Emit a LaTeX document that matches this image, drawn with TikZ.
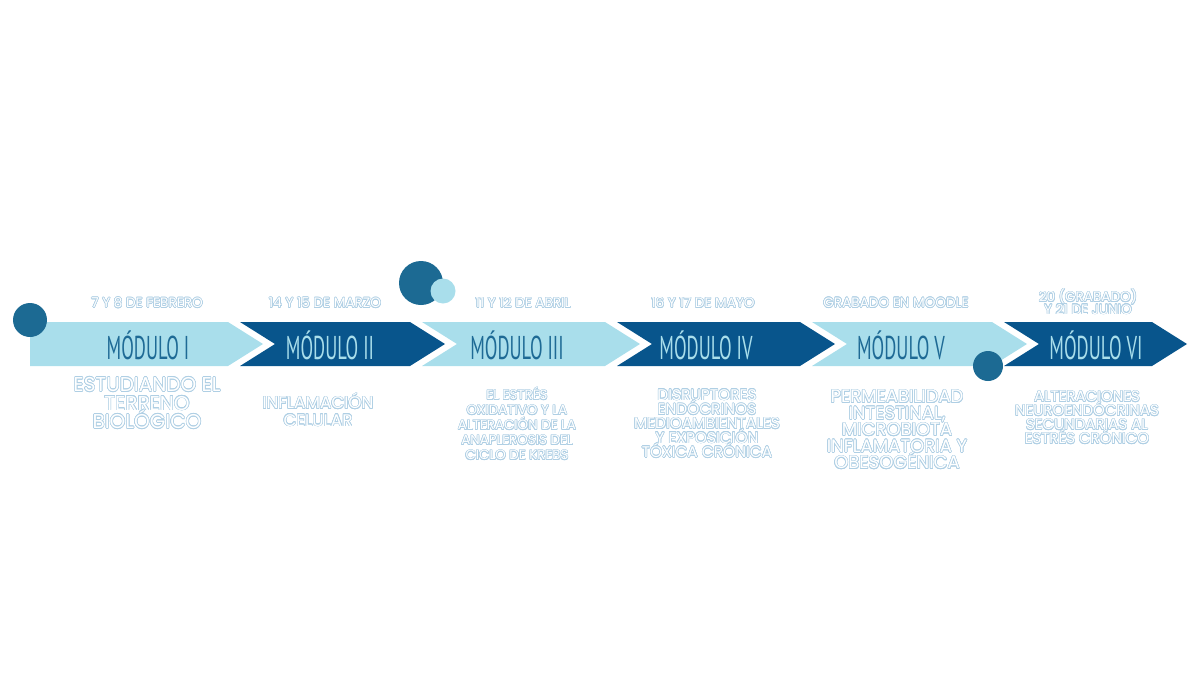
\documentclass[tikz,border=0pt]{standalone}
\usepackage{fontspec}
\usepackage{contour}
\newfontfamily\popf{Poppins}
\newfontfamily\modf{PT Sans}
\definecolor{lightseg}{HTML}{A9DEEB}
\definecolor{darkseg}{HTML}{08558C}
\definecolor{tealdot}{HTML}{1C6A93}
\definecolor{modonlight}{HTML}{1E6A95}
\definecolor{outl}{HTML}{AFCFE4}
\contourlength{0.3pt}
\contournumber{16}
\newcommand{\ol}[1]{\contour{outl}{#1}}
\newcommand{\modtxt}[1]{\scalebox{0.56}[1]{#1}}
\newcommand{\tightls}{\lineskiplimit=-20pt\relax}
\tikzset{
  seglight/.style={fill=lightseg, draw=none},
  segdark/.style={fill=darkseg, draw=none},
  dot/.style={circle, fill=tealdot, draw=none, inner sep=0pt},
  modlabel/.style={font=\modf\fontsize{16.5}{16.5}\selectfont, inner sep=0pt},
  datelabel/.style={font={\popf\fontsize{6.8}{6.1}\selectfont\tightls}, align=center, text=white, inner sep=0pt},
  desclabel/.style={align=center, text=white, inner sep=0pt, anchor=north},
}
\begin{document}
\begin{tikzpicture}[x=0.5pt, y=-0.5pt]
\useasboundingbox (0,0) rectangle (1200,675);
% chevrons
\fill[seglight] (30,322) -- (228,322) -- (263,344) -- (228,366) -- (30,366) -- cycle;
\fill[segdark] (240,322) -- (410,322) -- (445,344) -- (410,366) -- (240,366) -- (275,344) -- cycle;
\fill[seglight] (422,322) -- (605,322) -- (640,344) -- (605,366) -- (422,366) -- (457,344) -- cycle;
\fill[segdark] (617,322) -- (800,322) -- (835,344) -- (800,366) -- (617,366) -- (652,344) -- cycle;
\fill[seglight] (812,322) -- (992,322) -- (1027,344) -- (992,366) -- (812,366) -- (847,344) -- cycle;
\fill[segdark] (1004,322) -- (1152,322) -- (1187,344) -- (1152,366) -- (1004,366) -- (1039,344) -- cycle;
% dots
\node[dot, minimum size=17pt] (d1) at (30,320) {};
\node[dot, minimum size=22pt] (d3a) at (421,283) {};
\node[dot, fill=lightseg, minimum size=12.5pt] (d3b) at (443,291) {};
\node[dot, minimum size=15pt] (d5) at (988,366) {};
% module labels
\node[modlabel, text=modonlight] (m1) at (148,345) {\modtxt{MÓDULO I}};
\node[modlabel, text=lightseg] (m2) at (330,345) {\modtxt{MÓDULO II}};
\node[modlabel, text=modonlight] (m3) at (517,345) {\modtxt{MÓDULO III}};
\node[modlabel, text=lightseg] (m4) at (706,345) {\modtxt{MÓDULO IV}};
\node[modlabel, text=modonlight] (m5) at (901,345) {\modtxt{MÓDULO V}};
\node[modlabel, text=lightseg] (m6) at (1096,345) {\modtxt{MÓDULO VI}};
% dates
\node[datelabel] (t1) at (147,303) {\ol{7 Y 8 DE FEBRERO}};
\node[datelabel] (t2) at (325,303) {\ol{14 Y 15 DE MARZO}};
\node[datelabel] (t3) at (523,303) {\ol{11 Y 12 DE ABRIL}};
\node[datelabel] (t4) at (703,303) {\ol{16 Y 17 DE MAYO}};
\node[datelabel] (t5) at (896,303) {\ol{GRABADO EN MOODLE}};
\node[datelabel] (t6) at (1088,302) {\ol{20 (GRABADO)}\\\ol{Y 21 DE JUNIO}};
% descriptions
\node[desclabel, font={\popf\fontsize{10}{9.25}\selectfont\tightls}] (s1) at (147,377) {\ol{ESTUDIANDO EL}\\\ol{TERRENO}\\\ol{BIOLÓGICO}};
\node[desclabel, font={\popf\fontsize{8.4}{8.6}\selectfont\tightls}] (s2) at (318,393) {\ol{INFLAMACIÓN}\\\ol{CELULAR}};
\node[desclabel, font={\popf\fontsize{6.7}{7.5}\selectfont\tightls}] (s3) at (517,387) {\ol{EL ESTRÉS}\\\ol{OXIDATIVO Y LA}\\\ol{ALTERACIÓN DE LA}\\\ol{ANAPLEROSIS DEL}\\\ol{CICLO DE KREBS}};
\node[desclabel, font={\popf\fontsize{7.7}{7.15}\selectfont\tightls}] (s4) at (707,389) {\ol{DISRUPTORES}\\\ol{ENDÓCRINOS}\\\ol{MEDIOAMBIENTALES}\\\ol{Y EXPOSICIÓN}\\\ol{TÓXICA CRÓNICA}};
\node[desclabel, font={\popf\fontsize{9}{8.25}\selectfont\tightls}] (s5) at (897,390) {\ol{PERMEABILIDAD}\\\ol{INTESTINAL,}\\\ol{MICROBIOTA}\\\ol{INFLAMATORIA Y}\\\ol{OBESOGÉNICA}};
\node[desclabel, font={\popf\fontsize{7.5}{7}\selectfont\tightls}] (s6) at (1087,391) {\ol{ALTERACIONES}\\\ol{NEUROENDÓCRINAS}\\\ol{SECUNDARIAS AL}\\\ol{ESTRÉS CRÓNICO}};
\end{tikzpicture}
\end{document}
